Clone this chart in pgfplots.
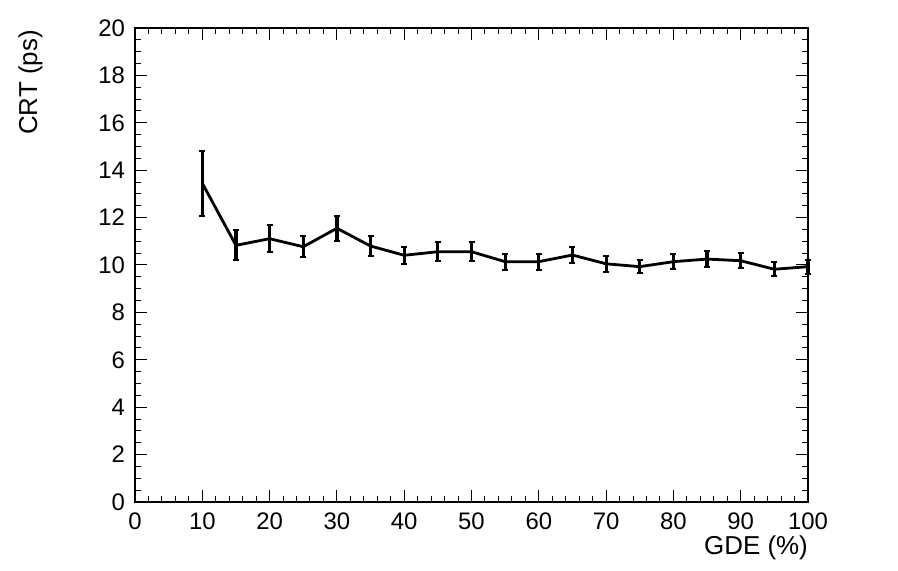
\documentclass[border=0pt]{standalone}
\usepackage{pgfplots}
\pgfplotsset{compat=1.18}
\usepackage{fontspec}
\setmainfont{Liberation Sans}
\begin{document}
\begin{tikzpicture}
\path[use as bounding box] (-135bp,-69bp) rectangle (763bp,502bp);
\begin{axis}[
  at={(0,0)}, anchor=south west,
  scale only axis, width=673bp, height=474bp,
  xmin=0, xmax=100, ymin=0, ymax=20,
  clip=false,
  xtick={0,10,...,100}, ytick={0,2,...,20},
  minor x tick num=4, minor y tick num=3,
  major tick length=12bp, minor tick length=6bp,
  tick align=inside, tick pos=both,
  axis line style={line width=1.2bp},
  every tick/.style={black, line width=1bp},
  xticklabel={\pgfmathprintnumber[assume math mode=true]{\tick}},
  yticklabel={\pgfmathprintnumber[assume math mode=true]{\tick}},
  tick label style={font=\fontsize{24}{29}\selectfont},
  xticklabel style={yshift=-7bp},
  yticklabel style={xshift=-6.5bp},
  xlabel={GDE (\%)}, ylabel={CRT (ps)},
  xlabel style={at={(axis description cs:1,-0.1118)}, anchor=base east, inner sep=0pt, font=\fontsize{26}{31}\selectfont},
  ylabel style={at={(axis description cs:-0.1456,0.9958)}, anchor=base east, inner sep=0pt, rotate=0, font=\fontsize{26}{31}\selectfont},
]
\addplot[black, line width=2.8bp, mark=none,
  error bars/.cd, y dir=both, y explicit,
  error bar style={line width=3.2bp}, error mark options={rotate=90, mark size=3bp, line width=2bp}]
  coordinates {
  (10,13.45) +- (0,1.37)
  (15,10.83) +- (0,0.63)
  (20,11.11) +- (0,0.56)
  (25,10.77) +- (0,0.44)
  (30,11.55) +- (0,0.52)
  (35,10.80) +- (0,0.44)
  (40,10.41) +- (0,0.37)
  (45,10.56) +- (0,0.39)
  (50,10.56) +- (0,0.39)
  (55,10.14) +- (0,0.34)
  (60,10.14) +- (0,0.34)
  (65,10.42) +- (0,0.34)
  (70,10.05) +- (0,0.34)
  (75,9.93) +- (0,0.28)
  (80,10.14) +- (0,0.32)
  (85,10.25) +- (0,0.32)
  (90,10.18) +- (0,0.31)
  (95,9.82) +- (0,0.29)
  (100,9.93) +- (0,0.30)
  };
\end{axis}
\end{tikzpicture}
\end{document}
